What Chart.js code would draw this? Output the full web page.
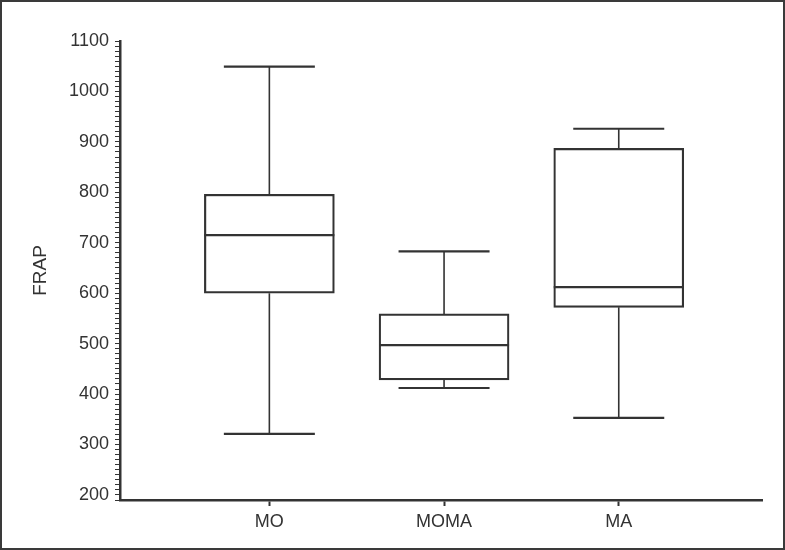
<!DOCTYPE html>
<html>
<head>
<meta charset="utf-8">
<script src="https://cdn.jsdelivr.net/npm/chart.js@4"></script>
<style>
  body { margin: 0; background: #fff; }
  #wrap { position: relative; width: 785px; height: 550px; }
  #frame { position: absolute; left: 0; top: 0; right: 0; bottom: 0; border: 2px solid #3a3a3a; box-sizing: border-box; pointer-events: none; }
</style>
</head>
<body>
<div id="wrap">
  <canvas id="canvas" width="785" height="550"></canvas>
  <div id="frame"></div>
</div>
<script>
// dados
const categories = ["MO", "MOMA", "MA"]
const minVals = [321, 412, 353]
const q1Vals = [600, 428, 572]
const medianVals = [715, 497, 612]
const q3Vals = [796, 559, 887]
const maxVals = [1049, 683, 926]

const ink = "#333333"
const font = "'Liberation Sans', Arial, sans-serif"

// desenha bigodes e mediana em cima das caixas
const boxPlugin = {
  id: "boxWhiskers",
  afterDatasetsDraw(chart) {
    const ctx = chart.ctx
    const x = chart.scales.x
    const y = chart.scales.y
    const meta = chart.getDatasetMeta(0)
    ctx.save()
    ctx.strokeStyle = ink
    categories.forEach((c, i) => {
      const cx = x.getPixelForValue(i + 1)
      const w = meta.data[i].width
      const cap = w * 0.35
      const yMin = y.getPixelForValue(minVals[i])
      const yQ1 = y.getPixelForValue(q1Vals[i])
      const yMed = y.getPixelForValue(medianVals[i])
      const yQ3 = y.getPixelForValue(q3Vals[i])
      const yMax = y.getPixelForValue(maxVals[i])

      ctx.lineWidth = 1.6
      ctx.beginPath()
      ctx.moveTo(cx, yQ3)
      ctx.lineTo(cx, yMax)
      ctx.moveTo(cx, yQ1)
      ctx.lineTo(cx, yMin)
      ctx.stroke()

      ctx.lineWidth = 2.2
      ctx.beginPath()
      ctx.moveTo(cx - cap, yMax)
      ctx.lineTo(cx + cap, yMax)
      ctx.moveTo(cx - cap, yMin)
      ctx.lineTo(cx + cap, yMin)
      ctx.moveTo(cx - w / 2, yMed)
      ctx.lineTo(cx + w / 2, yMed)
      ctx.stroke()
    })
    ctx.restore()
  },
}

const config = {
  type: "bar",
  data: {
    datasets: [
      {
        data: categories.map((c, i) => ({ x: i + 1, y: [q1Vals[i], q3Vals[i]] })),
        backgroundColor: "#ffffff",
        borderColor: ink,
        borderWidth: 2.2,
        borderSkipped: false,
        barThickness: 130,
      },
    ],
  },
  options: {
    responsive: false,
    animation: false,
    layout: { padding: { left: 0, right: 23, top: 41, bottom: 0 } },
    plugins: {
      legend: { display: false },
      tooltip: { enabled: false },
    },
    scales: {
      x: {
        type: "linear",
        min: 0.145,
        max: 3.82,
        offset: false,
        afterBuildTicks: (scale) => {
          scale.ticks = categories.map((c, i) => ({ value: i + 1 }))
        },
        afterFit: (scale) => {
          scale.height = 50
        },
        ticks: {
          autoSkip: false,
          color: ink,
          font: { family: font, size: 18 },
          padding: 5,
          callback: (v) => categories[v - 1] || "",
        },
        grid: {
          offset: false,
          drawOnChartArea: false,
          drawTicks: true,
          tickLength: 6,
          tickColor: ink,
          tickWidth: 2,
        },
        border: { display: true, color: ink, width: 2.5 },
      },
      y: {
        min: 190,
        max: 1100,
        afterFit: (scale) => {
          scale.width = 120
        },
        ticks: {
          stepSize: 10,
          autoSkip: false,
          color: ink,
          font: { family: font, size: 18 },
          padding: 6,
          callback: (v) => (v % 100 === 0 ? v : ""),
        },
        grid: {
          drawOnChartArea: false,
          drawTicks: true,
          tickLength: 5,
          tickColor: ink,
          tickWidth: 1,
        },
        border: { display: true, color: ink, width: 2.5 },
        title: {
          display: true,
          text: "FRAP",
          color: ink,
          font: { family: font, size: 19 },
          padding: { top: 29, bottom: 0 },
        },
      },
    },
  },
  plugins: [boxPlugin],
}

const ctx = document.getElementById("canvas").getContext("2d")
window.boxChart = new Chart(ctx, config)
</script>
</body>
</html>
